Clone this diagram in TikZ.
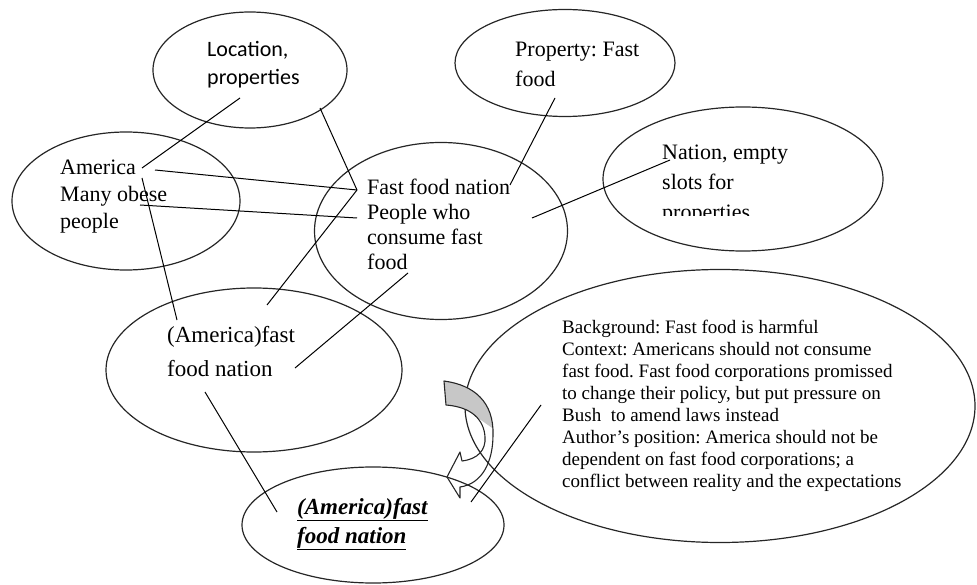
\documentclass[tikz,border=0pt]{standalone}
\usepackage{fontspec}
\setmainfont{Liberation Serif}
\newfontfamily\calfont{Carlito}
\usetikzlibrary{shapes.geometric}
\frenchspacing

\begin{document}
\begin{tikzpicture}[x=1pt, y=-1pt,
    oval/.style={ellipse, draw, inner sep=0pt, line width=1.2pt, draw=black!85},
    txt/.style={align=left, anchor=base west, inner sep=0pt},
    edge/.style={line width=1pt}]
  \useasboundingbox (0,0) rectangle (977,585);

  % Ovals
  \node[oval, minimum width=194, minimum height=116] (loc) at (250,70) {};
  \node[oval, minimum width=220, minimum height=107] (prop) at (565,63) {};
  \node[oval, minimum width=228, minimum height=138] (amer) at (126,201) {};
  \node[oval, minimum width=253, minimum height=177] (ffn) at (441,231) {};
  \node[oval, minimum width=280, minimum height=144] (nat) at (743,179) {};
  \node[oval, minimum width=296, minimum height=164] (ffnam) at (254,370) {};
  \node[oval, minimum width=510, minimum height=273] (ctx) at (720,406) {};
  \node[oval, minimum width=262, minimum height=116] (res) at (373,525) {};

  % Ends of the lines
  \coordinate (locA) at (240,98);
  \coordinate (locB) at (320,108);
  \coordinate (amerA) at (142,168);
  \coordinate (amerB) at (155,170);
  \coordinate (amerC) at (140,205);
  \coordinate (amerD) at (142,178);
  \coordinate (ffnA) at (357,190);
  \coordinate (ffnB) at (357,218);
  \coordinate (ffnC) at (510,185);
  \coordinate (ffnD) at (532,218);
  \coordinate (ffnE) at (408,273);
  \coordinate (propA) at (555,98);
  \coordinate (natA) at (670,160);
  \coordinate (ffnamA) at (177,320);
  \coordinate (ffnamB) at (267,305);
  \coordinate (ffnamC) at (295,368);
  \coordinate (ffnamD) at (205,392);
  \coordinate (resA) at (277,512);
  \coordinate (resB) at (471,502);
  \coordinate (ctxA) at (541,405);

  % Lines
  \draw[edge] (locA) -- (amerA);
  \draw[edge] (locB) -- (ffnA);
  \draw[edge] (amerB) -- (ffnA);
  \draw[edge] (amerC) -- (ffnB);
  \draw[edge] (amerD) -- (ffnamA);
  \draw[edge] (ffnA) -- (ffnamB);
  \draw[edge] (propA) -- (ffnC);
  \draw[edge] (ffnD) -- (natA);
  \draw[edge] (ffnE) -- (ffnamC);
  \draw[edge] (ffnamD) -- (resA);
  \draw[edge] (ctxA) -- (resB);

  % Curved arrow
  \begin{scope}
    \clip (430,370) -- (505,370) -- (505,437) -- (478,418) -- (430,418) -- cycle;
    \fill[black!22] (444,381) .. controls (474,385) and (494,402) .. (493,435)
      .. controls (493,462) and (482,484) .. (460,487) -- (460,498) -- (447,477)
      -- (460,452) -- (462,461) .. controls (478,459) and (486,450) .. (485,437)
      .. controls (484,420) and (472,407) .. (446,405) -- cycle;
  \end{scope}
  \draw[line width=1.1pt, line join=round, draw=black!85] (444,381) .. controls (474,385) and (494,402) .. (493,435)
    .. controls (493,462) and (482,484) .. (460,487) -- (460,498) -- (447,477)
    -- (460,452) -- (462,461) .. controls (478,459) and (486,450) .. (485,437)
    .. controls (484,420) and (472,407) .. (446,405) -- cycle;

  % Texts (placed at the baseline of their last line)
  \node[txt, font=\calfont\fontsize{22}{28}\selectfont] (loctxt) at (207,85) {Location,\\properties};
  \node[txt, font=\fontsize{22}{30}\selectfont] (proptxt) at (515,87) {Property: Fast\\food};
  \node[txt, font=\fontsize{22}{27}\selectfont] (amertxt) at (60,229) {America\\Many obese\\people};
  \node[txt, font=\fontsize{22}{25}\selectfont] (ffntxt) at (367,270) {Fast food nation\\People who\\consume fast\\food};
  \begin{scope}
    \clip (600,100) rectangle (890,216);
    \node[txt, font=\fontsize{22}{30}\selectfont] (nattxt) at (662,220) {Nation, empty\\slots for\\properties};
  \end{scope}
  \node[txt, font=\fontsize{23}{34}\selectfont] (ffnamtxt) at (167,376) {(America)fast\\food nation};
  \node[txt, font=\fontsize{19}{22}\selectfont] (ctxtxt) at (562,487) {Background: Fast food is harmful\\Context: Americans should not consume\\fast food. Fast food corporations promissed\\to change their policy, but put pressure on\\Bush~ to amend laws instead\\Author's position: America should not be\\dependent on fast food corporations; a\\conflict between reality and the expectations};
  \node[txt, font=\fontsize{23}{29}\selectfont\bfseries\itshape] (restxt) at (297,543) {\underline{(America)fast}\\\underline{food nation}};
\end{tikzpicture}
\end{document}
